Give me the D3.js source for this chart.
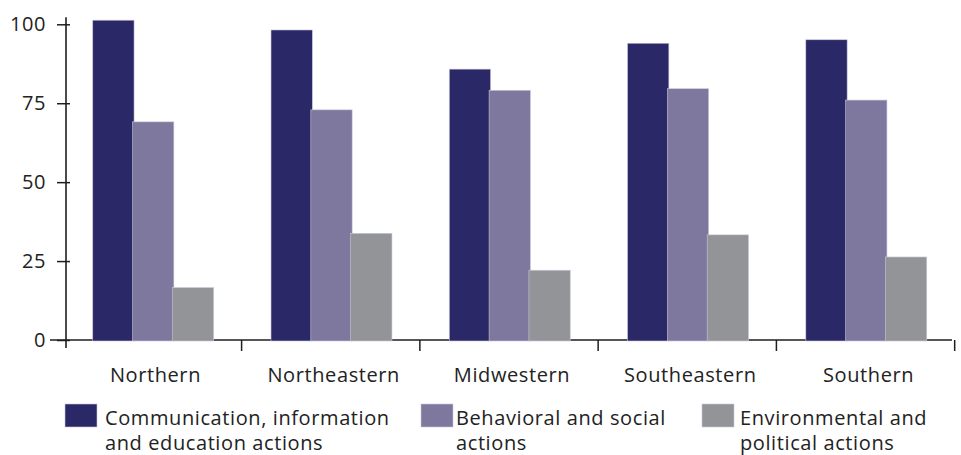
<!DOCTYPE html>
<html>
<head>
<meta charset="utf-8">
<script src="https://cdn.jsdelivr.net/npm/d3@7/dist/d3.min.js"></script>
<style>
  html, body { margin: 0; padding: 0; background: #fff; }
  svg { display: block; font-family: "Open Sans", sans-serif; }
</style>
</head>
<body>
<svg id="chart" width="961" height="455"></svg>
<script>
// Regions and the three kinds of actions shown for each
const regions = ["Northern", "Northeastern", "Midwestern", "Southeastern", "Southern"];
const seriesKeys = ["communication", "behavioral", "environmental"];
const seriesLabels = [
  ["Communication, information", "and education actions"],
  ["Behavioral and social", "actions"],
  ["Environmental and", "political actions"]
];
const communication = [101.3, 98.2, 85.8, 94.0, 95.1];
const behavioral    = [69.1, 72.9, 79.1, 79.6, 76.0];
const environmental = [16.6, 33.8, 22.1, 33.3, 26.3];
const yTicks = [0, 25, 50, 75, 100];

const colors = ["#2a2866", "#7f789e", "#939497"];
const values = { communication, behavioral, environmental };

const svg = d3.select("#chart");

const plotLeft = 66, plotRight = 952, plotTop = 24.3, plotBottom = 340;

const y = d3.scaleLinear().domain([0, 100]).range([plotBottom, plotTop]);

const x0 = d3.scaleBand()
  .domain(regions)
  .range([plotLeft, plotRight])
  .paddingInner(0.33)
  .paddingOuter(0.15);

const x1 = d3.scaleBand()
  .domain(seriesKeys)
  .range([0, x0.bandwidth()]);

const axisColor = "#1e1e1e";
const textStyle = (sel, size = 20) => sel
  .attr("fill", "#222")
  .style("font-size", size + "px")
  .style("letter-spacing", "0.6px")
  .style("font-family", "'Open Sans', sans-serif");

// Y axis: ticks crossing the vertical line
const yAxis = svg.append("g")
  .attr("transform", `translate(${plotLeft},0)`)
  .call(d3.axisLeft(y).tickValues(yTicks).tickSize(9).tickSizeOuter(0).tickPadding(11));
yAxis.select(".domain").remove();
yAxis.selectAll(".tick line")
  .attr("x1", 4)
  .attr("stroke", axisColor)
  .attr("stroke-width", 1.5);
yAxis.selectAll(".tick text").call(textStyle);

svg.append("line")
  .attr("x1", plotLeft).attr("x2", plotLeft)
  .attr("y1", y(100) - 7).attr("y2", y(0) + 8)
  .attr("stroke", axisColor).attr("stroke-width", 1.6);

// X axis baseline and category boundary ticks
svg.append("line")
  .attr("x1", plotLeft - 16).attr("x2", plotRight)
  .attr("y1", y(0)).attr("y2", y(0))
  .attr("stroke", axisColor).attr("stroke-width", 1.5);

const gapHalf = x0.step() * x0.paddingInner() / 2;
svg.append("g").selectAll("line")
  .data(regions)
  .join("line")
  .attr("x1", d => x0(d) + x0.bandwidth() + gapHalf)
  .attr("x2", d => x0(d) + x0.bandwidth() + gapHalf)
  .attr("y1", y(0)).attr("y2", y(0) + 11)
  .attr("stroke", axisColor).attr("stroke-width", 1.5);

svg.append("g").selectAll("text")
  .data(regions)
  .join("text")
  .attr("x", d => x0(d) + x0.bandwidth() / 2 + 3)
  .attr("y", 382)
  .attr("text-anchor", "middle")
  .call(textStyle)
  .text(d => d);

// Bars
const groups = svg.append("g").selectAll("g")
  .data(regions)
  .join("g")
  .attr("transform", d => `translate(${x0(d)},0)`);

groups.selectAll("rect")
  .data((d, i) => seriesKeys.map((k, j) => ({ key: k, j, value: values[k][i] })))
  .join("rect")
  .attr("x", d => x1(d.key))
  .attr("width", x1.bandwidth() + 1.5)
  .attr("y", d => y(d.value))
  .attr("height", d => y(0) + 1 - y(d.value))
  .attr("fill", d => colors[d.j])
  .attr("stroke", "#c9c6dc")
  .attr("stroke-width", 0.6);

// Legend
const legendX = [65, 421, 702];
const legendTextX = [40, 35, 38];
const legend = svg.append("g").selectAll("g")
  .data(seriesKeys)
  .join("g")
  .attr("transform", (d, i) => `translate(${legendX[i]},404)`);

legend.append("rect")
  .attr("width", 32).attr("height", 23)
  .attr("fill", (d, i) => colors[i])
  .attr("stroke", "#c9c6dc").attr("stroke-width", 0.6);

legend.each(function (d, i) {
  const t = d3.select(this).append("text").call(textStyle);
  seriesLabels[i].forEach((line, k) => {
    t.append("tspan").attr("x", legendTextX[i]).attr("y", 21 + k * 25).text(line);
  });
});
</script>
</body>
</html>
